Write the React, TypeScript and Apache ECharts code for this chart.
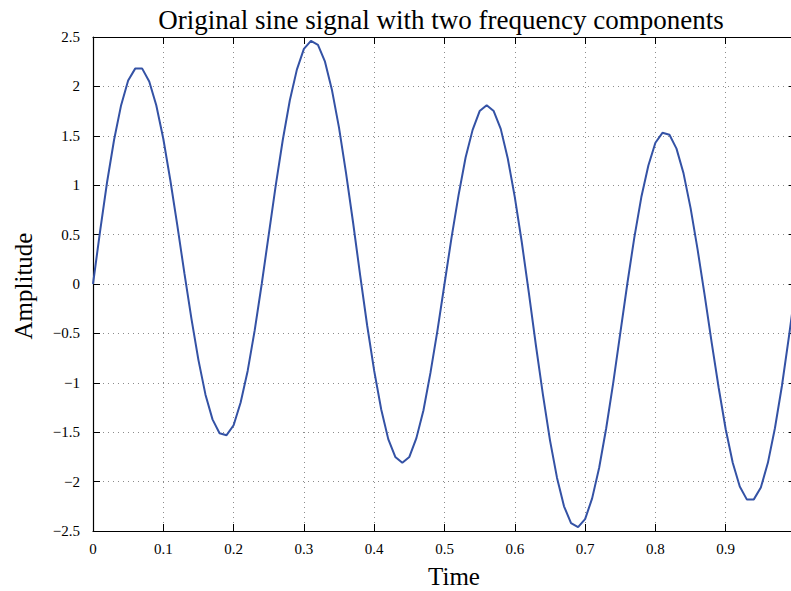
import React, { useEffect, useRef } from "react";
import * as echarts from "echarts";

const titleText = "Original sine signal with two frequency components";
const xLabel = "Time";
const yLabel = "Amplitude";

const time = [
  0, 0.01, 0.02, 0.03, 0.04, 0.05, 0.06, 0.07, 0.08, 0.09,
  0.1, 0.11, 0.12, 0.13, 0.14, 0.15, 0.16, 0.17, 0.18, 0.19,
  0.2, 0.21, 0.22, 0.23, 0.24, 0.25, 0.26, 0.27, 0.28, 0.29,
  0.3, 0.31, 0.32, 0.33, 0.34, 0.35, 0.36, 0.37, 0.38, 0.39,
  0.4, 0.41, 0.42, 0.43, 0.44, 0.45, 0.46, 0.47, 0.48, 0.49,
  0.5, 0.51, 0.52, 0.53, 0.54, 0.55, 0.56, 0.57, 0.58, 0.59,
  0.6, 0.61, 0.62, 0.63, 0.64, 0.65, 0.66, 0.67, 0.68, 0.69,
  0.7, 0.71, 0.72, 0.73, 0.74, 0.75, 0.76, 0.77, 0.78, 0.79,
  0.8, 0.81, 0.82, 0.83, 0.84, 0.85, 0.86, 0.87, 0.88, 0.89,
  0.9, 0.91, 0.92, 0.93, 0.94, 0.95, 0.96, 0.97, 0.98, 0.99,
  1.0,
];

const amplitude = [
  0, 0.53, 1.03, 1.46, 1.81, 2.06, 2.18, 2.18, 2.05, 1.81,
  1.47, 1.05, 0.59, 0.11, -0.35, -0.77, -1.12, -1.37, -1.51, -1.53,
  -1.43, -1.2, -0.88, -0.47, 0.0, 0.5, 1.0, 1.46, 1.86, 2.17,
  2.38, 2.46, 2.42, 2.25, 1.96, 1.58, 1.12, 0.62, 0.09, -0.42,
  -0.88, -1.27, -1.57, -1.75, -1.81, -1.75, -1.56, -1.28, -0.9, -0.47,
  0, 0.47, 0.9, 1.28, 1.56, 1.75, 1.81, 1.75, 1.57, 1.27,
  0.88, 0.42, -0.09, -0.62, -1.12, -1.58, -1.96, -2.25, -2.42, -2.46,
  -2.38, -2.17, -1.86, -1.46, -1.0, -0.5, 0.0, 0.47, 0.88, 1.2,
  1.43, 1.53, 1.51, 1.37, 1.12, 0.77, 0.35, -0.11, -0.59, -1.05,
  -1.47, -1.81, -2.05, -2.18, -2.18, -2.06, -1.81, -1.46, -1.03, -0.53,
  0,
];

const FONT = "Liberation Serif";
const LINE_COLOR = "#3452a5";

export default function App() {
  const ref = useRef<HTMLDivElement>(null);

  useEffect(() => {
    if (!ref.current) return;
    const chart = echarts.init(ref.current, undefined, { renderer: "svg" });

    const gridStyle = {
      show: true,
      lineStyle: { color: "#8c8c8c", width: 1, type: [1, 4] as any },
    };
    const axisLine = { show: true, onZero: false, lineStyle: { color: "#000", width: 1.2 } };
    const tick = { show: true, inside: true, length: 7, lineStyle: { color: "#000", width: 1 } };

    const fmtX = (v: number) => (v >= 0.999 ? "" : String(parseFloat(v.toFixed(1))));
    const fmtY = (v: number) => String(parseFloat(v.toFixed(1))).replace("-", "\u2212");

    chart.setOption({
      animation: false,
      backgroundColor: "#fff",
      grid: {
        left: 93,
        right: 4,
        top: 37,
        bottom: 60,
        containLabel: false,
        outerBoundsMode: "none",
      },
      xAxis: [
        {
          type: "value",
          min: 0,
          max: 1,
          interval: 0.1,
          position: "bottom",
          axisLine,
          axisTick: tick,
          splitLine: gridStyle,
          axisLabel: {
            color: "#000",
            fontFamily: FONT,
            fontSize: 15,
            margin: 10,
            formatter: fmtX,
          },
        },
        {
          type: "value",
          min: 0,
          max: 1,
          interval: 0.1,
          position: "top",
          axisLine,
          axisTick: tick,
          splitLine: { show: false },
          axisLabel: { show: false },
        },
      ],
      yAxis: [
        {
          type: "value",
          min: -2.5,
          max: 2.5,
          interval: 0.5,
          position: "left",
          axisLine,
          axisTick: tick,
          splitLine: gridStyle,
          axisLabel: {
            color: "#000",
            fontFamily: FONT,
            fontSize: 15,
            margin: 13,
            formatter: fmtY,
          },
        },
        {
          type: "value",
          min: -2.5,
          max: 2.5,
          interval: 0.5,
          position: "right",
          axisLine,
          axisTick: tick,
          splitLine: { show: false },
          axisLabel: { show: false },
        },
      ],
      series: [
        {
          type: "line",
          xAxisIndex: 0,
          yAxisIndex: 0,
          data: time.map((t, i) => [t, amplitude[i]]),
          showSymbol: false,
          symbol: "none",
          lineStyle: { color: LINE_COLOR, width: 2 },
          clip: true,
        },
      ],
      graphic: [
        {
          type: "text",
          x: 441,
          y: 20,
          style: {
            text: titleText,
            fontFamily: FONT,
            fontSize: 27,
            fill: "#000",
            textAlign: "center",
            textVerticalAlign: "middle",
          },
        },
        {
          type: "text",
          x: 454,
          y: 576,
          style: {
            text: xLabel,
            fontFamily: FONT,
            fontSize: 25,
            fill: "#000",
            textAlign: "center",
            textVerticalAlign: "middle",
          },
        },
        {
          type: "text",
          x: 23,
          y: 286,
          rotation: Math.PI / 2,
          style: {
            text: yLabel,
            fontFamily: FONT,
            fontSize: 25,
            fill: "#000",
            textAlign: "center",
            textVerticalAlign: "middle",
          },
        },
      ],
    });

    return () => chart.dispose();
  }, []);

  return (
    <div
      style={{
        position: "fixed",
        left: 0,
        top: 0,
        width: 791,
        height: 591,
        overflow: "hidden",
        background: "#fff",
      }}
    >
      <div ref={ref} style={{ width: 800, height: 591 }} />
    </div>
  );
}
